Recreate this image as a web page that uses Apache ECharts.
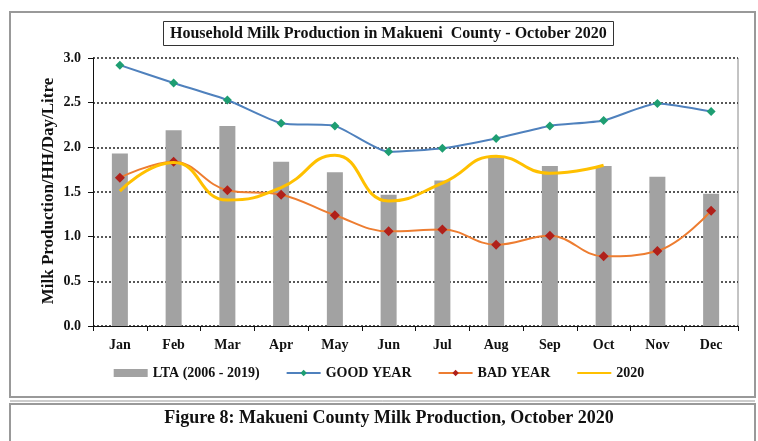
<!DOCTYPE html>
<html><head><meta charset="utf-8">
<script src="https://cdn.jsdelivr.net/npm/echarts@6/dist/echarts.min.js"></script>
<style>html,body{margin:0;padding:0;background:#fff}#c{width:758px;height:441px}</style>
</head><body><div id="c"></div>
<script>
const months = ['Jan','Feb','Mar','Apr','May','Jun','Jul','Aug','Sep','Oct','Nov','Dec'];
const lta = [1.93,2.19,2.24,1.84,1.72,1.47,1.63,1.89,1.79,1.79,1.67,1.48];
const goodYear = [2.92,2.72,2.53,2.27,2.24,1.95,1.99,2.10,2.24,2.30,2.49,2.40];
const badYear = [1.66,1.84,1.52,1.47,1.24,1.06,1.08,0.91,1.01,0.78,0.84,1.29];
const y2020 = [1.51,1.83,1.41,1.55,1.91,1.40,1.60,1.90,1.71,1.80];
const yTicks = [0,0.5,1,1.5,2,2.5,3];

const F = 'Liberation Serif, Times New Roman, serif';
const chart = echarts.init(document.getElementById('c'));
chart.setOption({
  animation:false,
  title:{text:'Household Milk Production in Makueni  County - October 2020',left:163,top:21,
    padding:[5,7,4,7],borderColor:'#333',borderWidth:1,
    textStyle:{fontFamily:F,fontWeight:'bold',fontSize:16,color:'#111'}},
  graphic:[
    {type:'rect',shape:{x:10,y:12,width:745,height:385},style:{fill:'none',stroke:'#999',lineWidth:2},z:-1},
    {type:'rect',shape:{x:10,y:404,width:745,height:50},style:{fill:'none',stroke:'#999',lineWidth:2},z:-1},
    {type:'line',shape:{x1:10,y1:401,x2:755,y2:401},style:{stroke:'#999',lineWidth:1}},
    {type:'text',x:389,y:418,style:{text:'Figure 8: Makueni County Milk Production, October 2020',
      font:'bold 18px '+F,fill:'#111',align:'center',verticalAlign:'middle'}},
    {type:'text',x:49,y:191,rotation:Math.PI/2,style:{text:'Milk Production/HH/Day/Litre',
      font:'bold 17px '+F,fill:'#111',align:'center',verticalAlign:'middle'}},
    {type:'line',shape:{x1:738,y1:58,x2:738,y2:326},style:{stroke:'#888',lineWidth:1}}
  ],
  legend:{bottom:56,left:'center',itemGap:26,itemWidth:34,itemHeight:8,
    textStyle:{fontFamily:F,fontWeight:'bold',fontSize:14,color:'#111'},
    data:[{name:'LTA (2006 - 2019)',icon:'rect'},'GOOD YEAR','BAD YEAR',{name:'2020',itemStyle:{opacity:0}}]},
  grid:{left:93,right:20,top:58,bottom:115},
  xAxis:{type:'category',data:months,boundaryGap:true,
    axisLine:{lineStyle:{color:'#111',width:1}},
    axisTick:{show:true,length:5,lineStyle:{color:'#111'}},
    axisLabel:{fontFamily:F,fontWeight:'bold',fontSize:14,color:'#111',margin:12}},
  yAxis:{type:'value',min:0,max:3,interval:0.5,
    axisLine:{show:true,lineStyle:{color:'#111'}},
    axisTick:{show:true,length:5,lineStyle:{color:'#111'}},
    axisLabel:{fontFamily:F,fontWeight:'bold',fontSize:14,color:'#111',margin:12,formatter:v=>v.toFixed(1)},
    splitLine:{lineStyle:{type:[2,2],color:'#222',width:1.5}}},
  series:[
    {name:'LTA (2006 - 2019)',type:'bar',data:lta,barWidth:16,itemStyle:{color:'#a2a2a2'},z:1},
    {name:'GOOD YEAR',type:'line',data:goodYear,smooth:0.2,symbol:'diamond',symbolSize:9,
      lineStyle:{color:'#4f81bd',width:2},itemStyle:{color:'#1e9e72'},z:3},
    {name:'BAD YEAR',type:'line',data:badYear,smooth:0.4,symbol:'diamond',symbolSize:10,
      lineStyle:{color:'#ed7d31',width:2},itemStyle:{color:'#b0201a'},z:4},
    {name:'2020',type:'line',data:y2020,smooth:0.5,symbol:'none',
      lineStyle:{color:'#ffc000',width:3},itemStyle:{color:'#ffc000'},z:5}
  ]
});
</script></body></html>
